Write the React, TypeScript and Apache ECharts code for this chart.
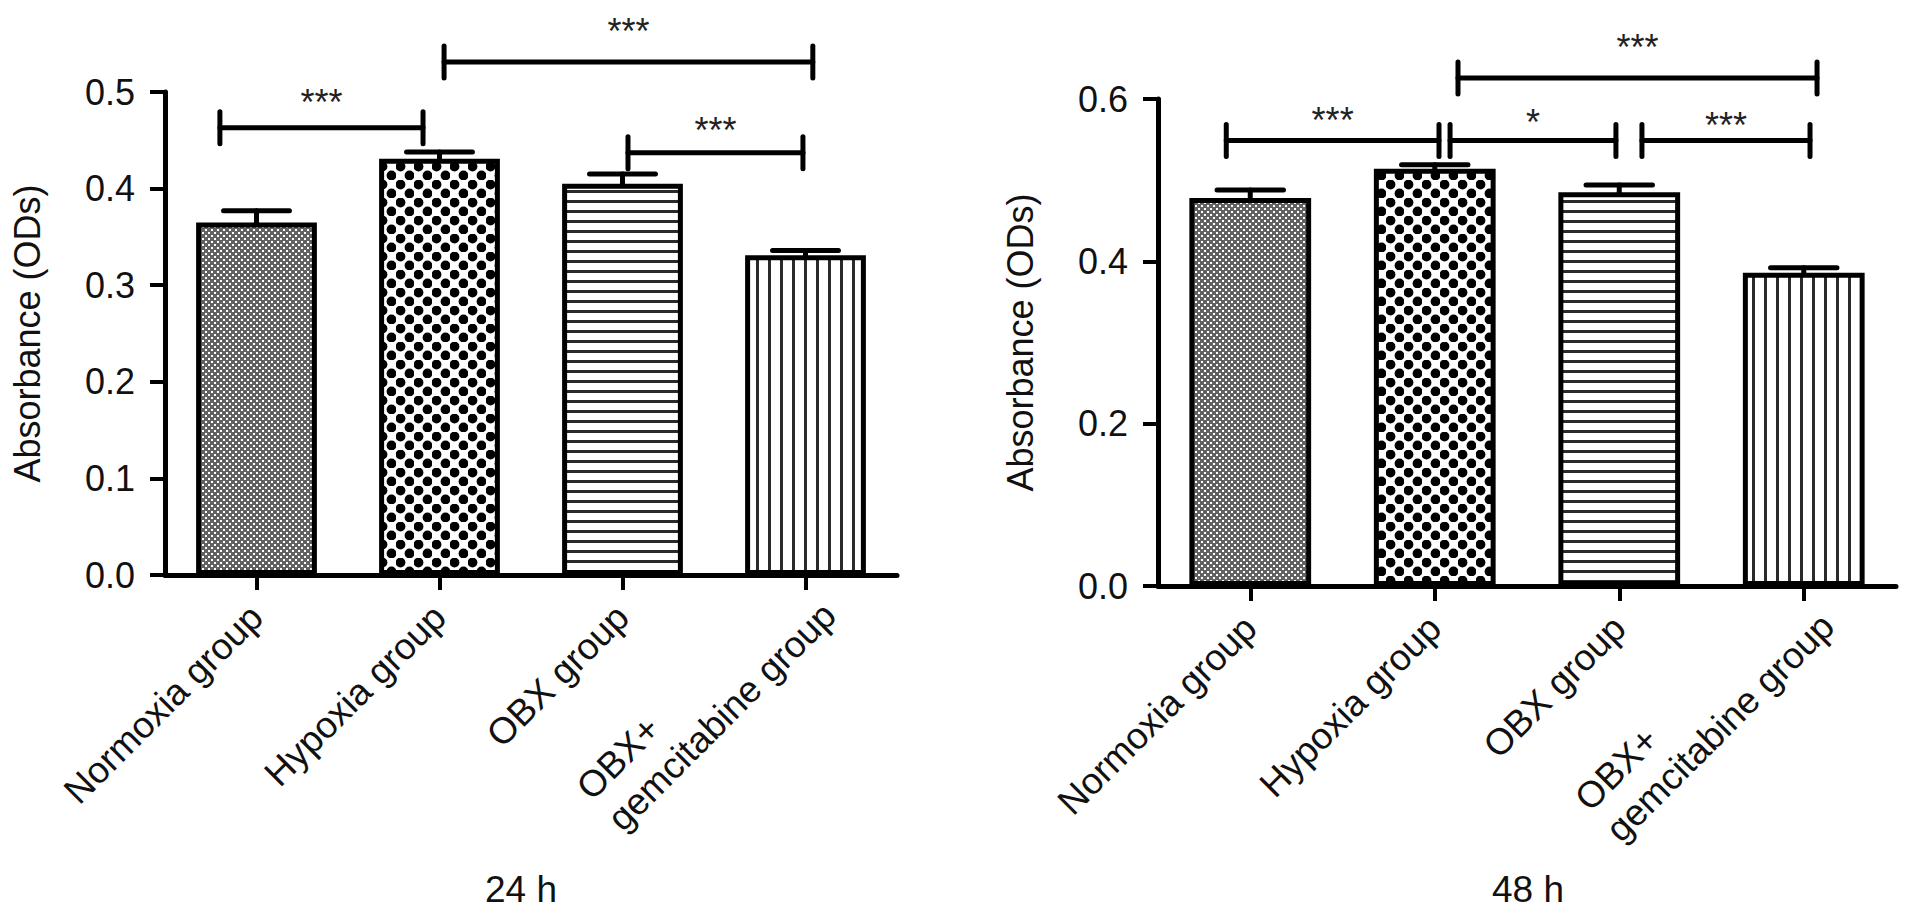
import * as echarts from "echarts";
import { useEffect, useRef } from "react";

// groups along the x axis
const CATEGORIES = ["Normoxia group", "Hypoxia group", "OBX group", "OBX+\ngemcitabine group"];

// absorbance means and SEM, 24 h and 48 h
const VALUES_24H = [0.365, 0.431, 0.405, 0.331];
const SEM_24H = [0.012, 0.007, 0.01, 0.005];
const VALUES_48H = [0.478, 0.514, 0.485, 0.386];
const SEM_48H = [0.01, 0.005, 0.009, 0.006];

// y axis: max and step
const Y_MAX = [0.5, 0.6];
const Y_STEP = [0.1, 0.2];

// significance brackets: [from, to (in category units), bracket y, label y]
const BRACKETS_24H = [
  [-0.2, 0.91, 0.463, 0.499],
  [1.025, 3.04, 0.531, 0.573],
  [2.03, 2.986, 0.437, 0.471],
];
const BRACKET_LABELS_24H = ["***", "***", "***"];
const BRACKETS_48H = [
  [-0.13, 1.023, 0.549, 0.586],
  [1.083, 1.982, 0.549, 0.583],
  [2.123, 3.034, 0.549, 0.58],
  [1.126, 3.072, 0.626, 0.676],
];
const BRACKET_LABELS_48H = ["***", "*", "***", "***"];

const PANEL_TITLES = ["24 h", "48 h"];

const FONT = "'Liberation Sans', Arial, sans-serif";
const INK = "#111";

function tile(w: number, h: number, draw: (ctx: CanvasRenderingContext2D) => void) {
  const c = document.createElement("canvas");
  c.width = w;
  c.height = h;
  const ctx = c.getContext("2d")!;
  ctx.fillStyle = "#fff";
  ctx.fillRect(0, 0, w, h);
  draw(ctx);
  return c;
}

function makePatterns() {
  // fine grey dither
  const dither = tile(6, 6, (ctx) => {
    ctx.fillStyle = "#626262";
    ctx.fillRect(0, 0, 6, 6);
    ctx.fillStyle = "#fff";
    ctx.fillRect(1, 1, 2, 2);
    ctx.fillRect(4, 4, 2, 2);
  });
  // coarse dots checker
  const checker = tile(18, 18, (ctx) => {
    ctx.fillStyle = "#000";
    ctx.beginPath();
    ctx.arc(4.5, 4.5, 4.9, 0, Math.PI * 2);
    ctx.fill();
    ctx.beginPath();
    ctx.arc(13.5, 13.5, 4.9, 0, Math.PI * 2);
    ctx.fill();
  });
  const hlines = tile(10, 10, (ctx) => {
    ctx.fillStyle = "#2a2a2a";
    ctx.fillRect(0, 0, 10, 3);
  });
  const vlines = tile(12, 12, (ctx) => {
    ctx.fillStyle = "#2a2a2a";
    ctx.fillRect(0, 0, 3, 12);
  });
  return [dither, checker, hlines, vlines].map((image) => ({ image, repeat: "repeat" }));
}

// two-line labels: lines left-aligned to each other, block hung from the tick
function labelFormatter(v: string) {
  if (v.indexOf("\n") < 0) return v;
  const [first, second] = v.split("\n");
  return `{a|${first}}\n{b|${second}}`;
}

export default function App() {
  const ref = useRef<HTMLDivElement | null>(null);

  useEffect(() => {
    if (!ref.current) return;
    const chart = echarts.init(ref.current, undefined, { renderer: "svg" });
    const patterns = makePatterns();

    const grids = [
      { left: 165, top: 92, width: 732, height: 483 },
      { left: 1158, top: 99, width: 738, height: 487 },
    ];

    const richLine = { width: 286, align: "left", fontSize: 37, fontFamily: FONT, color: INK };

    const catAxis = (gridIndex: number) => ({
      type: "category",
      gridIndex,
      data: CATEGORIES,
      axisLine: { show: true, onZero: false, lineStyle: { color: "#000", width: 5 } },
      axisTick: { show: true, alignWithLabel: true, length: 15, lineStyle: { color: "#000", width: 4 } },
      axisLabel: {
        interval: 0,
        rotate: 45,
        margin: 36,
        fontSize: 37,
        fontFamily: FONT,
        color: INK,
        formatter: labelFormatter,
        rich: {
          a: { ...richLine, lineHeight: 31 },
          b: { ...richLine, lineHeight: 57 },
        },
      },
    });

    const posAxis = (gridIndex: number) => ({
      type: "value",
      gridIndex,
      min: -0.5,
      max: 3.5,
      show: false,
    });

    const valAxis = (gridIndex: number) => ({
      type: "value",
      gridIndex,
      min: 0,
      max: Y_MAX[gridIndex],
      interval: Y_STEP[gridIndex],
      name: "Absorbance (ODs)",
      nameLocation: "middle",
      nameGap: 120,
      nameTextStyle: { fontSize: 36, fontFamily: FONT, color: INK },
      axisLine: { show: true, onZero: false, lineStyle: { color: "#000", width: 5 } },
      axisTick: { show: true, length: 15, lineStyle: { color: "#000", width: 4 } },
      axisLabel: {
        margin: 30,
        fontSize: 36,
        fontFamily: FONT,
        color: INK,
        formatter: (v: number) => v.toFixed(1),
      },
      splitLine: { show: false },
    });

    const barSeries = (i: number, values: number[]) => ({
      type: "bar",
      xAxisIndex: i,
      yAxisIndex: i,
      barWidth: "66%",
      data: values.map((v, k) => ({
        value: v,
        itemStyle: { color: patterns[k], borderColor: "#000", borderWidth: 5 },
      })),
      z: 2,
    });

    const errSeries = (i: number, values: number[], sem: number[]) => ({
      type: "custom",
      xAxisIndex: i,
      yAxisIndex: i,
      z: 3,
      clip: false,
      encode: { x: 0, y: 1 },
      data: values.map((v, k) => [k, v, sem[k]]),
      renderItem: (_p: any, api: any) => {
        const top = api.coord([api.value(0), api.value(1)]);
        const cap = api.coord([api.value(0), api.value(1) + api.value(2)]);
        const half = api.size([1, 0])[0] * 0.18;
        const style = { stroke: "#000", lineWidth: 5, lineCap: "round" };
        return {
          type: "group",
          children: [
            { type: "line", shape: { x1: top[0], y1: top[1], x2: cap[0], y2: cap[1] }, style },
            { type: "line", shape: { x1: cap[0] - half, y1: cap[1], x2: cap[0] + half, y2: cap[1] }, style },
          ],
        };
      },
    });

    const bracketSeries = (i: number, brackets: number[][], labels: string[]) => ({
      type: "custom",
      xAxisIndex: 2 + i,
      yAxisIndex: i,
      z: 4,
      clip: false,
      encode: { x: [0, 1], y: [2, 3] },
      data: brackets,
      renderItem: (params: any, api: any) => {
        const a = api.coord([api.value(0), api.value(2)]);
        const b = api.coord([api.value(1), api.value(2)]);
        const t = api.coord([(api.value(0) + api.value(1)) / 2, api.value(3)]);
        const style = { stroke: "#000", lineWidth: 5, lineCap: "round" };
        return {
          type: "group",
          children: [
            { type: "line", shape: { x1: a[0], y1: a[1], x2: b[0], y2: b[1] }, style },
            { type: "line", shape: { x1: a[0], y1: a[1] - 16, x2: a[0], y2: a[1] + 16 }, style },
            { type: "line", shape: { x1: b[0], y1: b[1] - 16, x2: b[0], y2: b[1] + 16 }, style },
            {
              type: "text",
              x: t[0],
              y: t[1] + 10,
              style: {
                text: labels[params.dataIndex],
                fontSize: 36,
                fontFamily: FONT,
                fill: "#222",
                align: "center",
                verticalAlign: "middle",
              },
            },
          ],
        };
      },
    });

    const titleStyle = { fontSize: 37, fontWeight: "normal", fontFamily: FONT, color: INK };

    chart.setOption({
      animation: false,
      backgroundColor: "#fff",
      title: [
        { text: PANEL_TITLES[0], left: 516, top: 866, textAlign: "center", textStyle: titleStyle },
        { text: PANEL_TITLES[1], left: 1523, top: 866, textAlign: "center", textStyle: titleStyle },
      ],
      grid: grids,
      xAxis: [catAxis(0), catAxis(1), posAxis(0), posAxis(1)],
      yAxis: [valAxis(0), valAxis(1)],
      series: [
        barSeries(0, VALUES_24H),
        barSeries(1, VALUES_48H),
        errSeries(0, VALUES_24H, SEM_24H),
        errSeries(1, VALUES_48H, SEM_48H),
        bracketSeries(0, BRACKETS_24H, BRACKET_LABELS_24H),
        bracketSeries(1, BRACKETS_48H, BRACKET_LABELS_48H),
      ],
    });

    return () => {
      chart.dispose();
    };
  }, []);

  return (
    <div
      ref={ref}
      style={{ position: "absolute", left: 0, top: 0, width: 1913, height: 914, background: "#fff" }}
    />
  );
}
